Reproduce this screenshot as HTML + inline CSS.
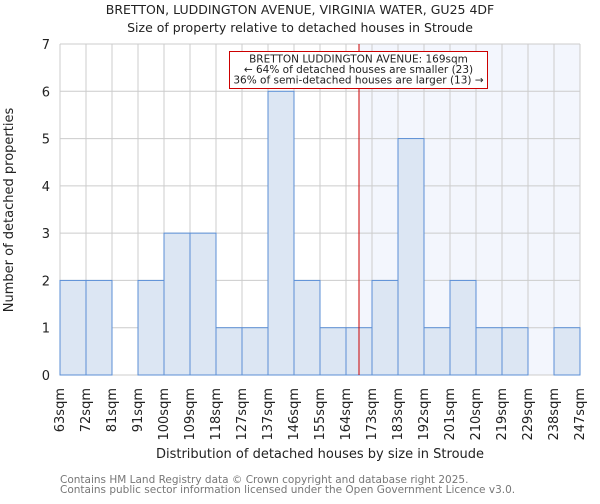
<!DOCTYPE html>
<html><head><meta charset="utf-8"><style>
body{margin:0;background:#fff;font-family:"DejaVu Sans","Liberation Sans",sans-serif}
svg text{font-family:"DejaVu Sans","Liberation Sans",sans-serif}
</style></head><body>
<svg id="c" width="600" height="500" xmlns="http://www.w3.org/2000/svg"></svg>
<script>
const categories=["63sqm","72sqm","81sqm","91sqm","100sqm","109sqm","118sqm","127sqm","137sqm","146sqm","155sqm","164sqm","173sqm","183sqm","192sqm","201sqm","210sqm","219sqm","229sqm","238sqm","247sqm"];
const counts=[2,2,0,2,3,3,1,1,6,2,1,1,2,5,1,2,1,1,0,1];
const yTicks=[0,1,2,3,4,5,6,7];
const markerBin=11.5;
const L=60,R=580,T=44,B=375,yMax=7;
const nb=counts.length,bw=(R-L)/nb;
const xs=i=>L+i*bw, ys=v=>B-v*(B-T)/yMax;
const svg=document.getElementById('c');const NS="http://www.w3.org/2000/svg";
function el(t,a,txt){const e=document.createElementNS(NS,t);for(const k in a)e.setAttribute(k,a[k]);if(txt!=null)e.textContent=txt;svg.appendChild(e);return e;}
let e;
e=el('rect',{x:xs(markerBin),y:T,width:R-xs(markerBin),height:B-T,fill:'#f3f6fd'});


for(let i=0;i<=nb;i++){e=el('line',{x1:xs(i),x2:xs(i),y1:T,y2:B,stroke:'#cccccc'});

}
yTicks.forEach(v=>{e=el('line',{x1:L,x2:R,y1:ys(v),y2:ys(v),stroke:'#cccccc'});


e=el('text',{x:L-10,y:ys(v)+5,'text-anchor':'end','font-size':13,fill:'#222'},v);

});
counts.forEach((v,i)=>{if(v<=0)return;e=el('rect',{x:xs(i),y:ys(v),width:bw,height:B-ys(v),fill:'#dce6f3',stroke:'#5b8fd6','stroke-width':1});

});
categories.forEach((c,i)=>{const x=xs(i)+4;e=el('text',{x:0,y:0,transform:`translate(${x},388) rotate(-90)`,'text-anchor':'end','font-size':13,fill:'#222'},c);

});
e=el('line',{x1:xs(markerBin),x2:xs(markerBin),y1:T,y2:B,stroke:'#cc0000','stroke-width':1});


e=el('rect',{x:229.5,y:51.5,width:258,height:37,fill:'#fff',stroke:'#cc0000','stroke-width':1});


["BRETTON LUDDINGTON AVENUE: 169sqm","← 64% of detached houses are smaller (23)","36% of semi-detached houses are larger (13) →"].forEach((t,k)=>{e=el('text',{x:358.5,y:62.5+k*10.5,'text-anchor':'middle','font-size':10.5,fill:'#222'},t);

});
e=el('text',{x:300,y:14,'text-anchor':'middle','font-size':12.5,fill:'#222'},"BRETTON, LUDDINGTON AVENUE, VIRGINIA WATER, GU25 4DF");


e=el('text',{x:300,y:32,'text-anchor':'middle','font-size':12.5,fill:'#222'},"Size of property relative to detached houses in Stroude");


e=el('text',{x:320,y:458,'text-anchor':'middle','font-size':13,fill:'#222'},"Distribution of detached houses by size in Stroude");


e=el('text',{x:0,y:0,transform:'translate(13,210) rotate(-90)','text-anchor':'middle','font-size':13,fill:'#222'},"Number of detached properties");


e=el('text',{x:60,y:483,'font-size':10.5,fill:'#777'},"Contains HM Land Registry data © Crown copyright and database right 2025.");


e=el('text',{x:60,y:493,'font-size':10.5,fill:'#777'},"Contains public sector information licensed under the Open Government Licence v3.0.");


</script>
</body></html>
